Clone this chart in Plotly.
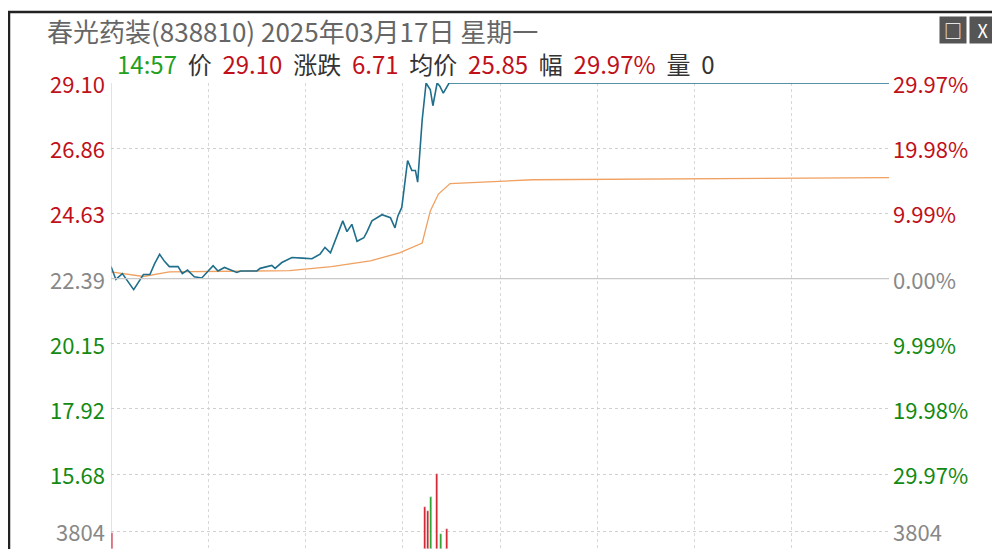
import plotly.graph_objects as go

# intraday minutes from open (0..240) and prices
PRICE_MIN = [0, 1.5, 3.5, 7, 10, 12, 13.5, 15, 16.5, 18, 20.7, 22, 23.6, 25.7, 28, 31.5, 33, 35,
             38.8, 40, 45, 46, 49.6, 50.6, 52.7, 55.8, 59, 62, 64.5, 66, 67.7, 69.6, 71.5, 72.8,
             74.3, 75.9, 78, 79, 80.5, 83.6, 86.2, 87.6, 88.5, 89.7, 91.5, 92.8, 93.9, 94.6, 96,
             97.2, 98.5, 99.3, 100.6, 101.4, 102.5, 104.3, 240]
PRICE = [22.80, 22.36, 22.56, 22.01, 22.53, 22.53, 22.91, 23.22, 22.98, 22.80, 22.80, 22.56,
         22.68, 22.45, 22.41, 22.83, 22.65, 22.77, 22.60, 22.65, 22.65, 22.74, 22.84, 22.74,
         22.94, 23.11, 23.09, 23.07, 23.23, 23.46, 23.27, 23.79, 24.37, 24.00, 24.25, 23.67,
         23.79, 24.00, 24.37, 24.58, 24.48, 24.13, 24.54, 24.83, 26.44, 26.10, 26.10, 25.70,
         27.84, 29.10, 28.87, 28.32, 29.10, 29.00, 28.75, 29.10, 29.10]

AVG_MIN = [0, 6, 10, 18, 40, 55, 68, 80, 89, 96, 98.5, 101, 104.6, 130, 240]
AVG = [22.62, 22.52, 22.46, 22.62, 22.64, 22.66, 22.80, 23.00, 23.27, 23.61, 24.71, 25.29,
       25.65, 25.78, 25.85]

VOL_MIN = [0.3, 96.9, 97.8, 98.7, 100.6, 101.8, 103.6]
VOL = [3382, 8868, 8024, 10978, 15831, 3171, 4226]
VOL_COLOR = ["#d0101a", "#d0101a", "#d0101a", "#1a9a1a", "#d0101a", "#1a9a1a", "#d0101a"]

PRICE_TICKS = [29.10, 26.86, 24.63, 22.39, 20.15, 17.92, 15.68]
PCT_LABELS = ["29.97%", "19.98%", "9.99%", "0.00%", "9.99%", "19.98%", "29.97%"]
TICK_COLORS = ["#c0101a"] * 3 + ["#888888"] + ["#138a13"] * 3
VOL_TICK = 13.72  # where the 3804 volume line sits on the price axis
VOL_LABEL = "3804"

RED, GREEN, DARK = "#c0101a", "#22a022", "#333333"
FONT = "Noto Sans CJK SC"


def px(x):  # screen pixel -> paper x
    return (x - 111) / 778


def py(y):  # screen pixel -> paper y
    return (549 - y) / 466


fig = go.Figure()
fig.add_trace(go.Bar(x=VOL_MIN, y=VOL, marker_color=VOL_COLOR, width=0.45,
                     yaxis="y2", showlegend=False))
fig.add_trace(go.Scatter(x=AVG_MIN, y=AVG, mode="lines", line=dict(color="#f0a060", width=1.3),
                         showlegend=False))
fig.add_trace(go.Scatter(x=PRICE_MIN, y=PRICE, mode="lines", line=dict(color="#1f6e8c", width=1.6),
                         showlegend=False))

fig.update_layout(
    width=1000, height=549,
    margin=dict(l=103, r=119, t=75, b=8),
    paper_bgcolor="white", plot_bgcolor="white",
    font=dict(family=FONT),
    bargap=0,
    xaxis=dict(range=[0, 240], tickvals=[0, 30, 60, 90, 120, 150, 180, 210, 240],
               showticklabels=False, showgrid=True, gridcolor="#d8d8d8", griddash="dot",
               zeroline=False, showline=False),
    yaxis=dict(range=[13.11, 29.10], tickvals=PRICE_TICKS + [VOL_TICK], showticklabels=False,
               showgrid=True, gridcolor="#d0d0d0", griddash="dot", zeroline=False),
    yaxis2=dict(range=[0, 98332], overlaying="y", showticklabels=False, showgrid=False,
                zeroline=False),
)

# solid pre-close line and left border of plot
fig.add_shape(type="line", xref="paper", yref="y", x0=0, x1=1, y0=22.39, y1=22.39,
              line=dict(color="#c8c8c8", width=1.2))
fig.add_shape(type="line", xref="x", yref="paper", x0=0, x1=0, y0=0, y1=1,
              line=dict(color="#c8c8c8", width=1))

for v, pct, c in zip(PRICE_TICKS, PCT_LABELS, TICK_COLORS):
    fig.add_annotation(x=0, xref="paper", y=v, yref="y", text=f"{v:.2f}", showarrow=False,
                       xanchor="right", xshift=-4, font=dict(size=22, color=c))
    fig.add_annotation(x=1, xref="paper", y=v, yref="y", text=pct, showarrow=False,
                       xanchor="left", xshift=2, font=dict(size=22, color=c))
for side, anc, sh in [(0, "right", -4), (1, "left", 2)]:
    fig.add_annotation(x=side, xref="paper", y=VOL_TICK, yref="y", text=VOL_LABEL,
                       showarrow=False, xanchor=anc, xshift=sh, font=dict(size=22, color="#888888"))

# window frame and title bar
fig.add_shape(type="rect", xref="paper", yref="paper", x0=px(9), x1=px(1010), y0=py(570),
              y1=py(12), line=dict(color="#222222", width=2.5), fillcolor="rgba(0,0,0,0)",
              layer="above")
for xc, label in [(953, "□"), (983, "X")]:
    fig.add_annotation(x=px(xc), y=py(30), xref="paper", yref="paper", text=label,
                       xanchor="center", yanchor="middle", showarrow=False,
                       width=24, height=24, bgcolor="#555555",
                       font=dict(size=18, color="white"))

fig.add_annotation(x=px(45), y=py(30), xref="paper", yref="paper",
                   xanchor="left", yanchor="middle", showarrow=False,
                   text="春光药装(838810) 2025年03月17日 星期一",
                   font=dict(size=26, color="#666666"))
S = "&nbsp;&nbsp;"
info = (f"<span style='color:{GREEN}'>14:57</span>{S}价{S}<span style='color:{RED}'>29.10</span>{S}"
        f"涨跌{S}<span style='color:{RED}'>6.71</span>{S}均价{S}<span style='color:{RED}'>25.85</span>{S}"
        f"幅{S}<span style='color:{RED}'>29.97%</span>{S}量{S}0")
fig.add_annotation(x=px(115), y=py(64), xref="paper", yref="paper",
                   xanchor="left", yanchor="middle", showarrow=False, text=info,
                   font=dict(size=24, color=DARK))

fig.write_html("out.html")
